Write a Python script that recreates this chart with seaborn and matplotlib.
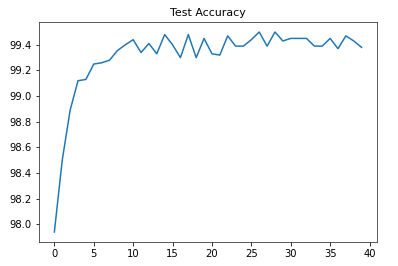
import matplotlib
matplotlib.use("Agg")
import matplotlib.pyplot as plt
import seaborn as sns
import pandas as pd

epochs = list(range(40))
accuracy = [97.94, 98.50, 98.89, 99.12, 99.13, 99.25, 99.26, 99.28, 99.355, 99.40,
            99.44, 99.34, 99.41, 99.33, 99.48, 99.40, 99.30, 99.48, 99.30, 99.45,
            99.33, 99.32, 99.47, 99.39, 99.39, 99.44, 99.50, 99.39, 99.50, 99.43,
            99.45, 99.45, 99.45, 99.39, 99.39, 99.45, 99.37, 99.47, 99.43, 99.38]
title = "Test Accuracy"

df = pd.DataFrame({"epoch": epochs, "acc": accuracy})

W, H, DPI = 398, 266, 72
fig = plt.figure(figsize=(W / DPI, H / DPI), dpi=DPI)
ax = fig.add_axes([39 / W, 1 - 242 / H, (377 - 39) / W, (242 - 22) / H])
sns.lineplot(data=df, x="epoch", y="acc", ax=ax, color="#1f77b4", linewidth=1.5)
ax.set_xlabel("")
ax.set_ylabel("")
ax.set_title(title, fontsize=11)
ax.set_xticks([0, 5, 10, 15, 20, 25, 30, 35, 40])
ax.set_yticks([98.0, 98.2, 98.4, 98.6, 98.8, 99.0, 99.2, 99.4])
ax.tick_params(labelsize=10)
for s in ax.spines.values():
    s.set_color("#333333")
fig.savefig("out.png", dpi=DPI)
